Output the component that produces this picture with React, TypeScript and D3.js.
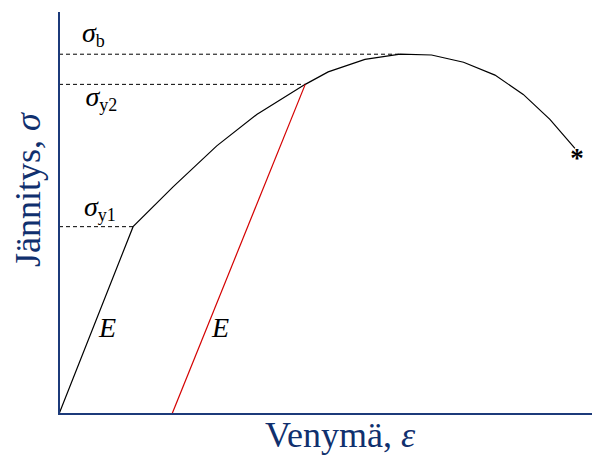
import React from "react";
import * as d3 from "d3";

// Stress–strain curve: strain (%) vs stress (% of scale)
const curveStrain = [0, 13.9, 21.4, 29.6, 37.1, 46.2, 50.5, 57.4, 64.0, 69.9, 75.9, 81.8, 87.1, 92.1, 96.8];
const curveStress = [0, 46.6, 56.5, 66.7, 74.5, 82.0, 85.1, 88.2, 89.5, 89.3, 87.5, 84.3, 79.5, 73.3, 66.1];

// Characteristic stress levels
const levelNames = ["b", "y2", "y1"];
const levelStress = [89.5, 82.0, 46.6];
const levelStrain = [64.0, 46.2, 13.9];

// Unloading line (same modulus E) from the second yield point
const unloadStrain = [21.2, 46.2];
const unloadStress = [0, 82.0];

const W = 593;
const H = 457;
const axisColor = "#1c3a7a";
const textColor = "#10306e";
const font = "'Liberation Serif', 'Times New Roman', serif";

export default function App() {
  const x = d3.scaleLinear().domain([0, 100]).range([59, 592]);
  const y = d3.scaleLinear().domain([0, 100]).range([414, 12]);

  const pts: [number, number][] = curveStrain.map((s, i) => [s, curveStress[i]]);
  const line = d3
    .line<[number, number]>()
    .x((d) => x(d[0]))
    .y((d) => y(d[1]));

  const unload: [number, number][] = unloadStrain.map((s, i) => [s, unloadStress[i]]);
  const last = pts[pts.length - 1];

  // label baselines relative to their dashed level (above, below, above)
  const labelY = [y(levelStress[0]) - 12, y(levelStress[1]) + 21.5, y(levelStress[2]) - 11];
  const labelX = [82, 85.5, 84];

  return (
    <svg width={W} height={H} style={{ position: "absolute", left: 0, top: 0 }}>
      <rect width={W} height={H} fill="#fff" />
      {/* dashed reference levels */}
      {levelStress.map((v, i) => (
        <line
          key={i}
          x1={x(0)}
          x2={x(levelStrain[i])}
          y1={y(v)}
          y2={y(v)}
          stroke="#000"
          strokeWidth={1}
          strokeDasharray="4,3"
        />
      ))}
      {levelNames.map((n, i) => (
        <text key={n} x={labelX[i]} y={labelY[i]} fontFamily={font} fill="#000">
          <tspan fontSize={28} fontStyle="italic">σ</tspan>
          <tspan fontSize={18} dy={5}>{n}</tspan>
        </text>
      ))}
      {/* stress–strain curve */}
      <path d={line(pts) ?? ""} fill="none" stroke="#000" strokeWidth={1.2} />
      {/* unloading line */}
      <path d={line(unload) ?? ""} fill="none" stroke="#d40000" strokeWidth={1.2} />
      {/* fracture marker */}
      <text
        x={x(last[0]) + 2}
        y={y(last[1]) + 19}
        fontFamily={font}
        fontSize={27}
        fontWeight="bold"
        textAnchor="middle"
        fill="#000"
      >
        *
      </text>
      {/* modulus labels */}
      <text x={99} y={337} fontFamily={font} fontSize={28} fontStyle="italic" fill="#000">E</text>
      <text x={212} y={337} fontFamily={font} fontSize={28} fontStyle="italic" fill="#000">E</text>
      {/* axes */}
      <line x1={x(0)} x2={x(0)} y1={12} y2={y(0) + 1} stroke={axisColor} strokeWidth={2} />
      <line x1={x(0) - 1} x2={592} y1={y(0)} y2={y(0)} stroke={axisColor} strokeWidth={2} />
      <text x={340} y={447} fontFamily={font} fontSize={36} textAnchor="middle" fill={textColor}>
        Venymä, <tspan fontStyle="italic">ε</tspan>
      </text>
      <text
        transform={`translate(40,190) rotate(-90)`}
        fontFamily={font}
        fontSize={36}
        textAnchor="middle"
        fill={textColor}
      >
        Jännitys, <tspan fontStyle="italic">σ</tspan>
      </text>
    </svg>
  );
}
